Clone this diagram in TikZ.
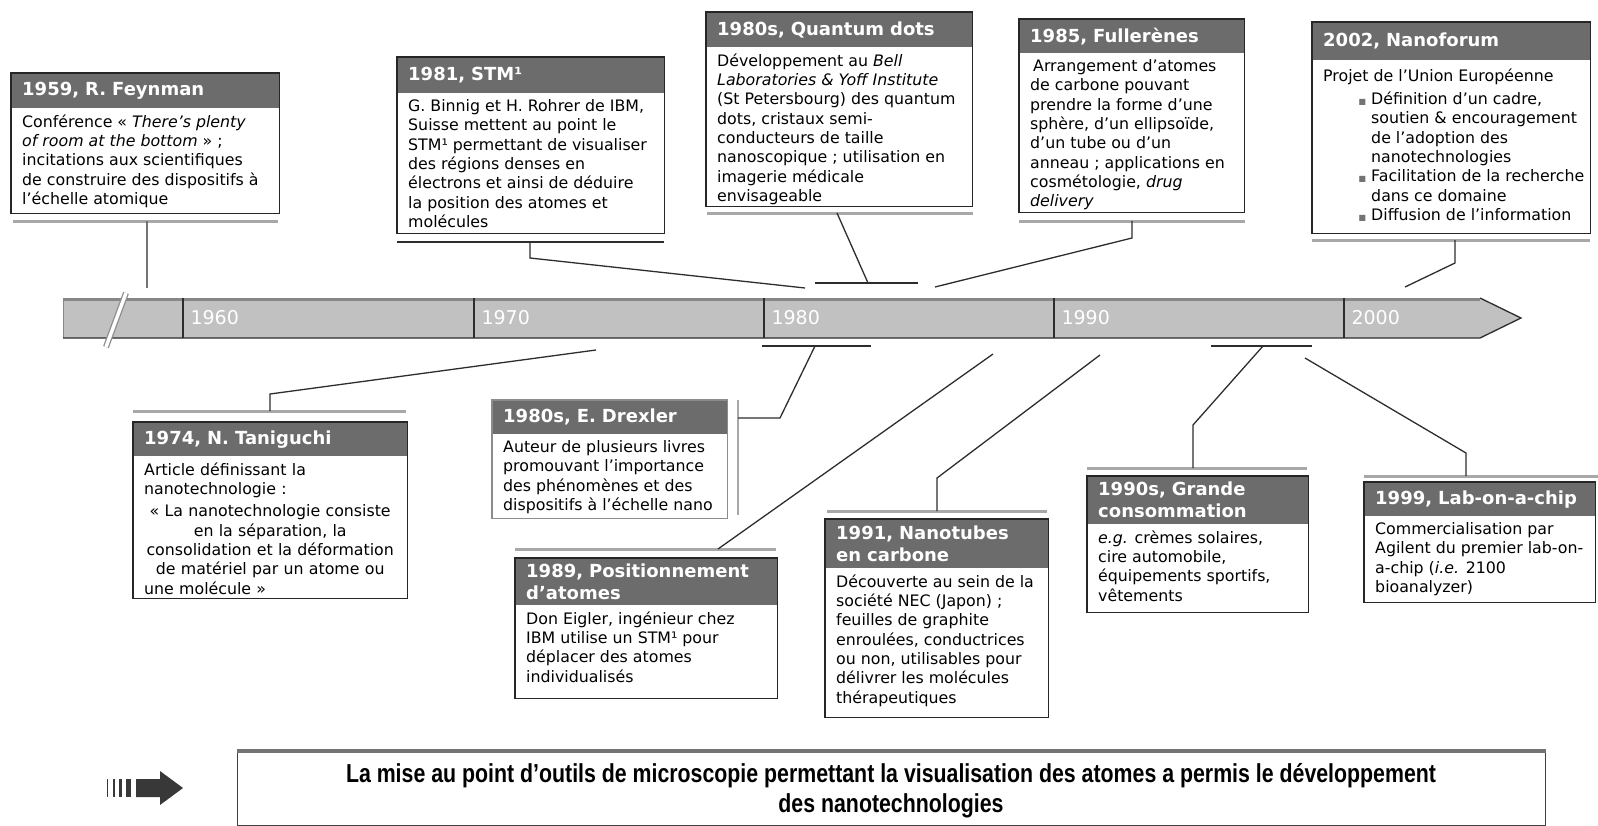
\documentclass[tikz,border=0pt]{standalone}
\usepackage{fontspec}
\setmainfont{DejaVu Sans}
\newfontfamily\condfont[FakeStretch=0.82]{Liberation Sans}
\usetikzlibrary{positioning}

\definecolor{titlegray}{RGB}{108,108,108}
\definecolor{barfill}{RGB}{193,193,193}
\definecolor{baredge}{RGB}{135,135,135}
\definecolor{sepgray}{RGB}{168,168,168}
\definecolor{linkdark}{RGB}{45,45,45}
\newcommand{\sqbul}{\llap{\textcolor{black!55}{\fontsize{8}{8}\selectfont ■}\hspace{5pt}}}

\begin{document}
\begin{tikzpicture}[x=1pt,y=-1pt,
  evtitle/.style={fill=titlegray, text=white, anchor=north west, align=left,
    font=\fontsize{18}{22}\selectfont\bfseries, inner xsep=11pt, inner ysep=0pt},
  evbody/.style={align=left, inner xsep=11pt, inner ysep=6pt,
    font=\fontsize{15.8}{19.3}\selectfont},
  frame/.style={draw=black!85, line width=1.5pt},
  softframe/.style={draw=black!45, line width=1.5pt},
  sepline/.style={draw=sepgray, line width=3pt},
  darksep/.style={draw=linkdark, line width=2pt},
  link/.style={draw=linkdark, line width=1.3pt},
  yearlabel/.style={text=white, anchor=west, font=\fontsize{19}{19}\selectfont},
  conclframe/.style={draw=black!75, line width=1pt, minimum width=1308pt, minimum height=74pt},
  concltext/.style={align=center, font=\condfont\bfseries\fontsize{26}{30}\selectfont}
]
\useasboundingbox (0,0) rectangle (1598,825);

% time bar
\fill[barfill] (63,298) -- (1480,298) -- (1521,318) -- (1480,338) -- (63,338) -- cycle;
\draw[baredge, line width=3pt] (63,299.5) -- (1480,299.5);
\draw[baredge, line width=1pt] (63,298) -- (63,338);
\draw[linkdark, line width=1.3pt] (1480,298) -- (1521,318) -- (1480,338) -- (63,338);
\draw[black!45, line width=6pt] (106,347) -- (126,293);
\draw[white, line width=3.5pt] (106,347) -- (126,293);
\foreach \xx/\yr in {183/1960,474/1970,764/1980,1054/1990,1344/2000} {
  \draw[linkdark, line width=2pt] (\xx,298) -- (\xx,338);
  \node[yearlabel] (y\yr) at (\xx+4,318) {\yr};
}

% events above the bar
\node[evtitle, text width=246pt, minimum height=35pt] (feyT) at (11,73) {1959, R. Feynman};
\node[evbody, below right=0pt and 0pt of feyT.south west] (feyB)
  {Conférence «~\textit{There's plenty}\\ \textit{of room at the bottom} » ;\\ incitations aux scientifiques\\ de construire des dispositifs à\\ l'échelle atomique};
\draw[frame] (feyT.north west) rectangle ([yshift=-105pt]feyT.south east);
\draw[sepline] (13,221) -- (278,221);

\node[evtitle, text width=245pt, minimum height=36pt] (stmT) at (397,57) {1981, STM¹};
\node[evbody, below right=0pt and 0pt of stmT.south west] (stmB)
  {G. Binnig et H. Rohrer de IBM,\\ Suisse mettent au point le\\ STM¹ permettant de visualiser\\ des régions denses en\\ électrons et ainsi de déduire\\ la position des atomes et\\ molécules};
\draw[frame] (stmT.north west) rectangle ([yshift=-140pt]stmT.south east);
\draw[darksep] (397,242) -- (664,242);

\node[evtitle, text width=244pt, minimum height=35pt] (qdT) at (706,12) {1980s, Quantum dots};
\node[evbody, below right=0pt and 0pt of qdT.south west] (qdB)
  {Développement au \textit{Bell}\\ \textit{Laboratories \& Yoff Institute}\\ (St Petersbourg) des quantum\\ dots, cristaux semi-\\ conducteurs de taille\\ nanoscopique ; utilisation en\\ imagerie médicale\\ envisageable};
\draw[frame] (qdT.north west) rectangle ([yshift=-159pt]qdT.south east);
\draw[sepline] (707,213) -- (973,213);

\node[evtitle, text width=203pt, minimum height=34pt] (fulT) at (1019,19) {1985, Fullerènes};
\node[evbody, below right=0pt and 0pt of fulT.south west] (fulB)
  {\hspace*{3pt}Arrangement d'atomes\\ de carbone pouvant\\ prendre la forme d'une\\ sphère, d'un ellipsoïde,\\ d'un tube ou d'un\\ anneau ; applications en\\ cosmétologie, \textit{drug}\\ \textit{delivery}};
\draw[frame] (fulT.north west) rectangle ([yshift=-159pt]fulT.south east);
\draw[sepline] (1019,221) -- (1245,221);

\node[evtitle, text width=256pt, minimum height=38pt] (nfT) at (1312,22) {2002, Nanoforum};
\node[evbody, inner ysep=8pt, below right=0pt and 0pt of nfT.south west] (nfB)
  {Projet de l'Union Européenne\\[4pt]
   \hspace*{48pt}\sqbul Définition d'un cadre,\\
   \hspace*{48pt}soutien \& encouragement\\
   \hspace*{48pt}de l'adoption des\\
   \hspace*{48pt}nanotechnologies\\
   \hspace*{48pt}\sqbul Facilitation de la recherche\\
   \hspace*{48pt}dans ce domaine\\
   \hspace*{48pt}\sqbul Diffusion de l'information};
\draw[frame] (nfT.north west) rectangle ([yshift=-173pt]nfT.south east);
\draw[sepline] (1312,240) -- (1590,240);

% events below the bar
\node[evtitle, text width=252pt, minimum height=34pt] (tanT) at (133,422) {1974, N. Taniguchi};
\node[evbody, text width=252pt, below right=0pt and 0pt of tanT.south west] (tanB)
  {Article définissant la\\ nanotechnologie :\par\vspace{3pt}\centering
   « La nanotechnologie consiste\\ en la séparation, la\\ consolidation et la déformation\\ de matériel par un atome ou\\ une molécule »};
\draw[frame] (tanT.north west) rectangle ([yshift=-142pt]tanT.south east);
\draw[sepline] (133,411) -- (406,411);

\node[evtitle, text width=213pt, minimum height=34pt] (drxT) at (492,400) {1980s, E. Drexler};
\node[evbody, below right=0pt and 0pt of drxT.south west] (drxB)
  {Auteur de plusieurs livres\\ promouvant l'importance\\ des phénomènes et des\\ dispositifs à l'échelle nano};
\draw[softframe] (drxT.north west) rectangle ([yshift=-84pt]drxT.south east);
\draw[sepgray, line width=2pt] (738,400) -- (738,515);

\node[evtitle, text width=240pt, minimum height=47pt] (posT) at (515,558) {1989, Positionnement\\ d'atomes};
\node[evbody, below right=0pt and 0pt of posT.south west] (posB)
  {Don Eigler, ingénieur chez\\ IBM utilise un STM¹ pour\\ déplacer des atomes\\ individualisés};
\draw[frame] (posT.north west) rectangle ([yshift=-93pt]posT.south east);
\draw[sepline] (515,549) -- (776,549);

\node[evtitle, text width=201pt, minimum height=49pt] (ntbT) at (825,519) {1991, Nanotubes\\ en carbone};
\node[evbody, below right=0pt and 0pt of ntbT.south west] (ntbB)
  {Découverte au sein de la\\ société NEC (Japon) ;\\ feuilles de graphite\\ enroulées, conductrices\\ ou non, utilisables pour\\ délivrer les molécules\\ thérapeutiques};
\draw[frame] (ntbT.north west) rectangle ([yshift=-149pt]ntbT.south east);
\draw[sepline] (827,511) -- (1047,511);

\node[evtitle, text width=199pt, minimum height=48pt] (gcT) at (1087,476) {1990s, Grande\\ consommation};
\node[evbody, below right=0pt and 0pt of gcT.south west] (gcB)
  {\textit{e.g.} crèmes solaires,\\ cire automobile,\\ équipements sportifs,\\ vêtements};
\draw[frame] (gcT.north west) rectangle ([yshift=-88pt]gcT.south east);
\draw[sepline] (1087,468) -- (1307,468);

\node[evtitle, text width=209pt, minimum height=34pt] (labT) at (1364,482) {\mbox{1999, Lab-on-a-chip}};
\node[evbody, below right=0pt and 0pt of labT.south west] (labB)
  {Commercialisation par\\ Agilent du premier lab-on-\\ a-chip (\textit{i.e.} 2100\\ bioanalyzer)};
\draw[frame] (labT.north west) rectangle ([yshift=-86pt]labT.south east);
\draw[sepline] (1364,476) -- (1598,476);

% connectors to the bar
\coordinate (feyA) at (147,221);   \coordinate (feyC) at (147,288);
\coordinate (stmA) at (530,242);   \coordinate (stmC) at (805,288);
\coordinate (qdA) at (837,213);    \coordinate (qdC) at (868,283);
\coordinate (qdL) at (815,283);    \coordinate (qdR) at (918,283);
\coordinate (fulA) at (1132,221);  \coordinate (fulC) at (935,287);
\coordinate (nfA) at (1455,240);   \coordinate (nfC) at (1405,287);
\coordinate (tanA) at (270,411);   \coordinate (tanC) at (596,350);
\coordinate (drxA) at (738,418);   \coordinate (drxC) at (815,346);
\coordinate (drxL) at (762,346);   \coordinate (drxR) at (871,346);
\coordinate (posA) at (718,549);   \coordinate (posC) at (993,354);
\coordinate (ntbA) at (937,511);   \coordinate (ntbC) at (1100,355);
\coordinate (gcA) at (1193,468);   \coordinate (gcC) at (1263,346);
\coordinate (gcL) at (1211,346);   \coordinate (gcR) at (1312,346);
\coordinate (labA) at (1466,476);  \coordinate (labC) at (1305,358);

\draw[link, draw=black!55] (feyA) -- (feyC);
\draw[link] (stmA) -- ++(0,16) -- (stmC);
\draw[link] (qdA) -- (qdC);
\draw[darksep] (qdL) -- (qdR);
\draw[link] (fulA) -- ++(0,17) -- (fulC);
\draw[link] (nfA) -- ++(0,23) -- (nfC);
\draw[link] (tanA) -- ++(0,-17) -- (tanC);
\draw[link] (drxA) -- ++(42,0) -- (drxC);
\draw[darksep] (drxL) -- (drxR);
\draw[link] (posA) -- (posC);
\draw[link] (ntbA) -- ++(0,-33) -- (ntbC);
\draw[link] (gcA) -- ++(0,-43) -- (gcC);
\draw[darksep] (gcL) -- (gcR);
\draw[link] (labA) -- ++(0,-23) -- (labC);

% conclusion
\fill[black!78] (136,779) -- (160,779) -- (160,771) -- (183,788) -- (160,805) -- (160,797) -- (136,797) -- cycle;
\foreach \xs/\w in {107/1.2,113/2,119/3,126/4.5}
  \fill[black!78] (\xs,779) rectangle ++(\w,18);
\node[conclframe] (conclF) at (891,788) {};
\node[concltext] (concl) at ([yshift=-3pt]conclF.center) {La mise au point d’outils de microscopie permettant la visualisation des atomes a permis le développement\\ des nanotechnologies};
\draw[black!55, line width=4pt] (conclF.north west) -- (conclF.north east);
\end{tikzpicture}
\end{document}
